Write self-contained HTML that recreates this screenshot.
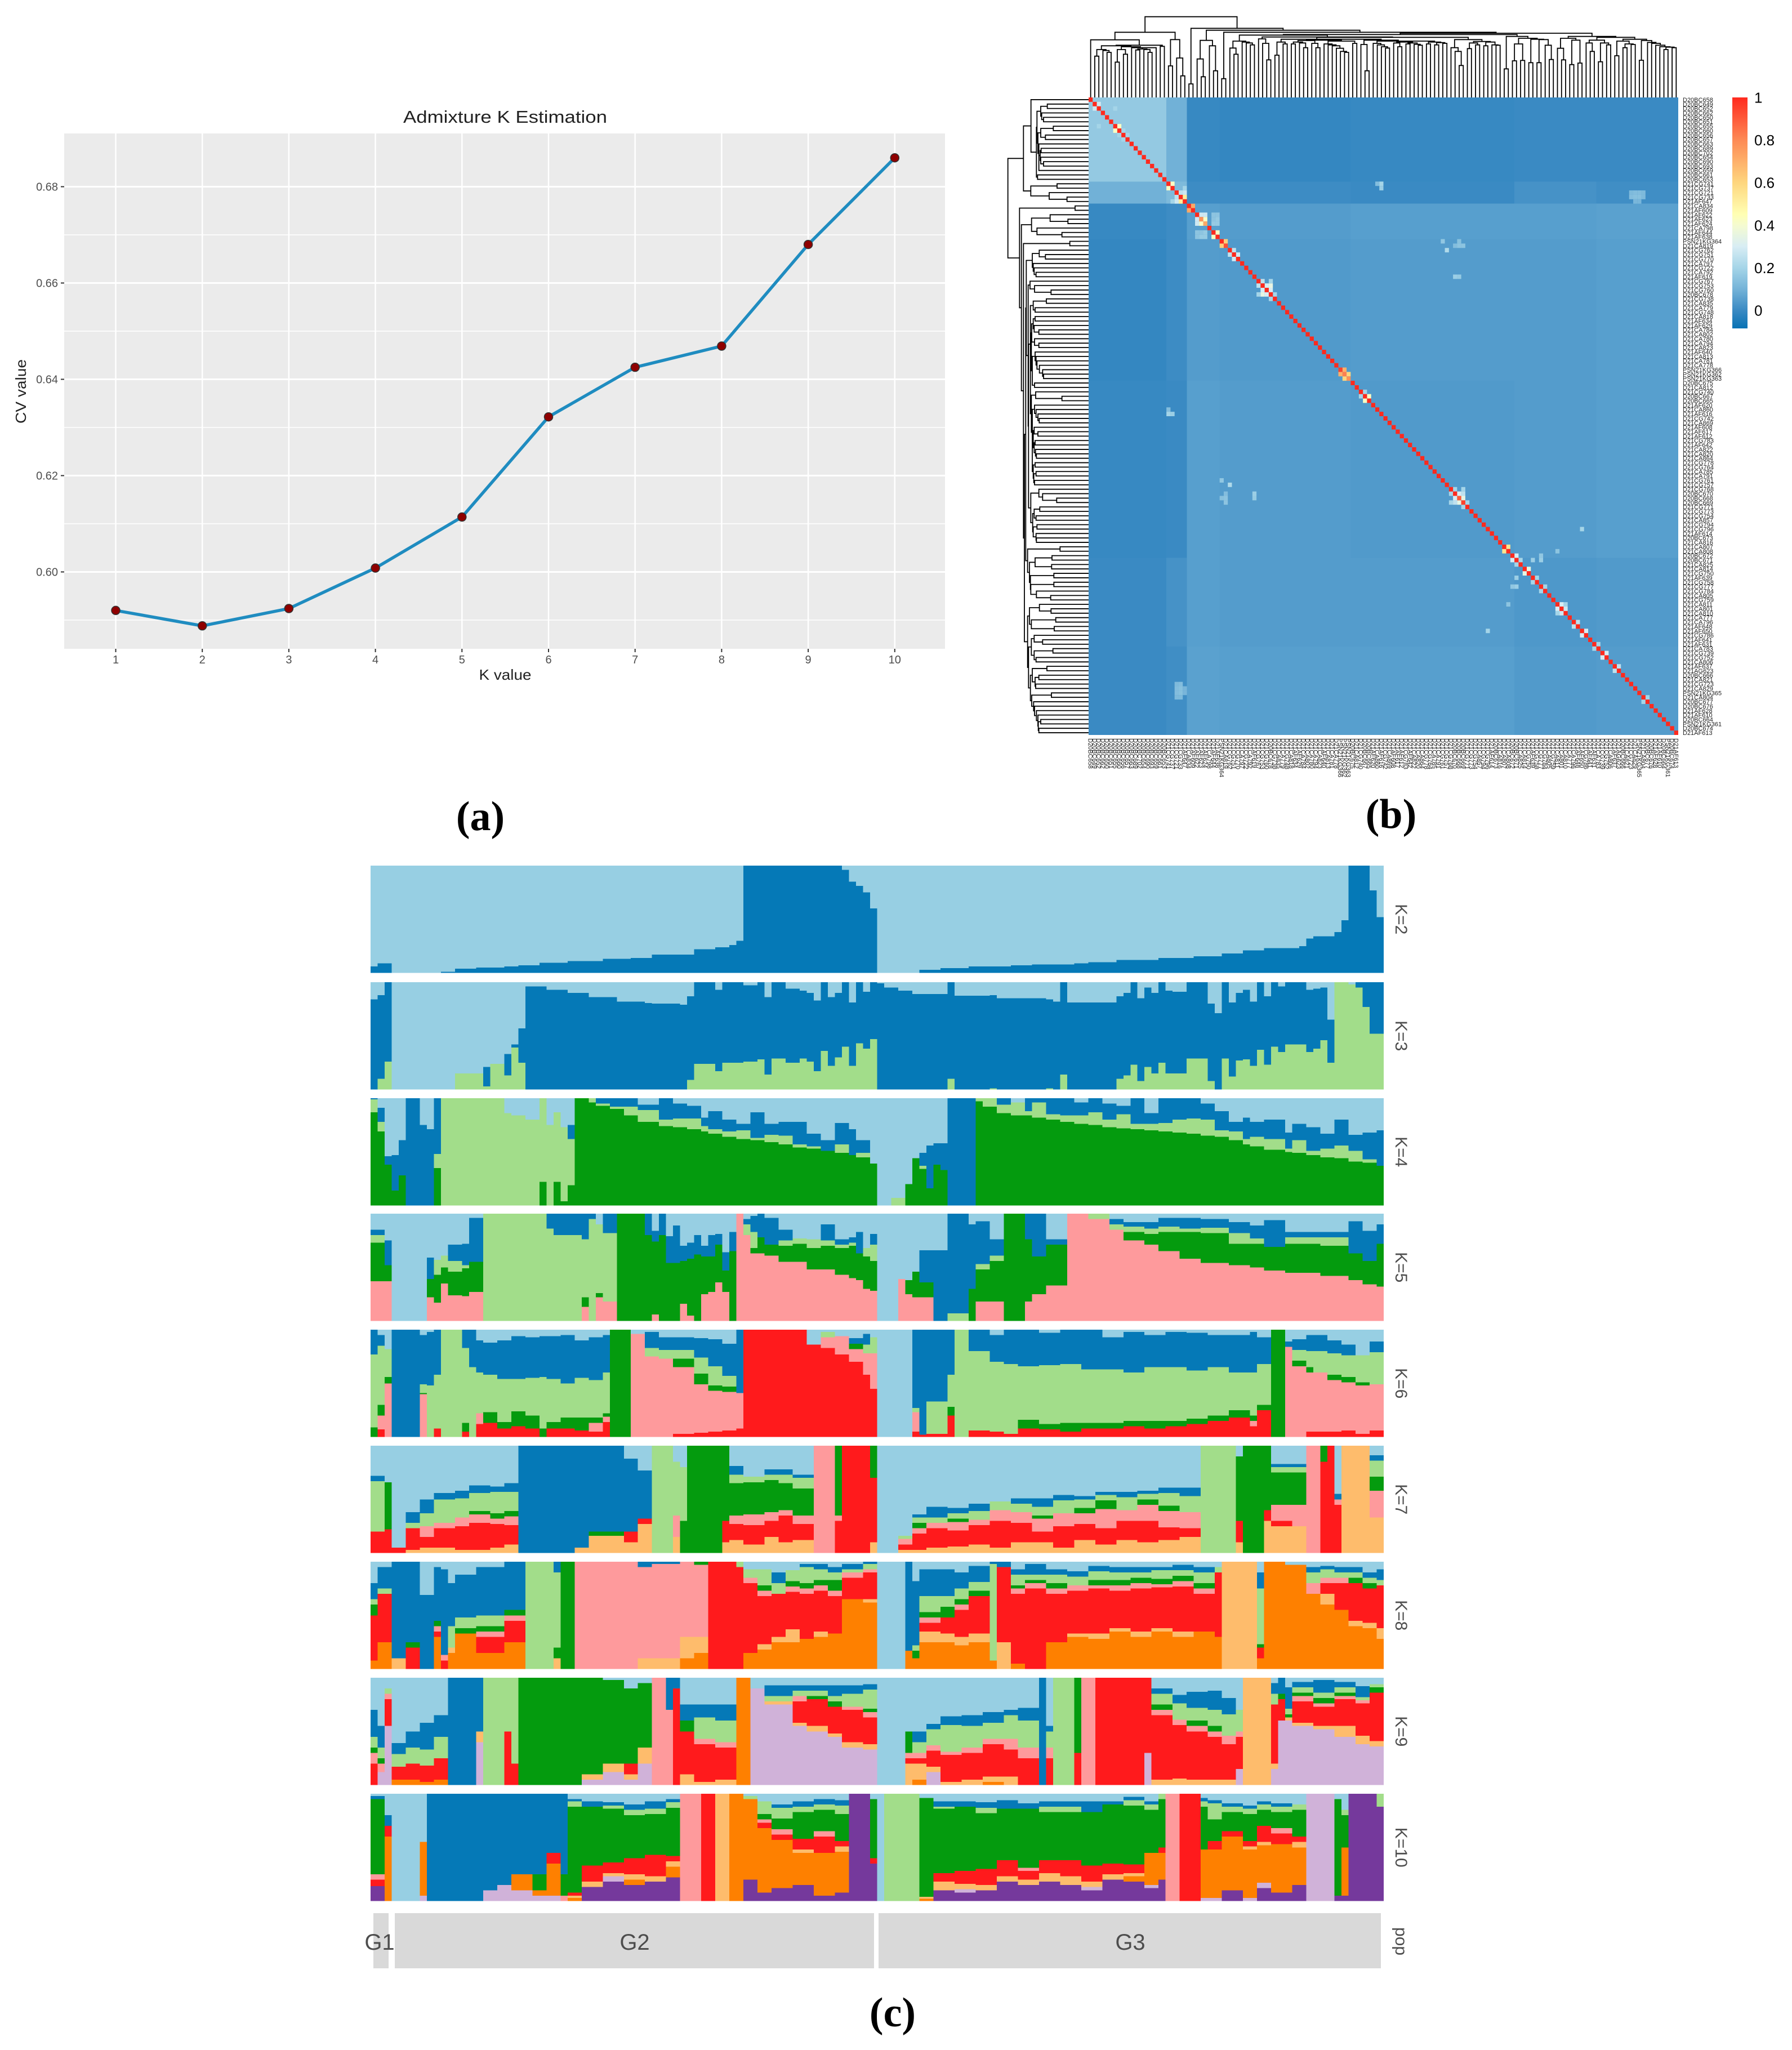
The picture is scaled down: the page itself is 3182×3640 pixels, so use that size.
<!DOCTYPE html>
<html lang="en">
<head>
<meta charset="utf-8">
<title>Admixture K estimation, kinship heatmap and structure plots</title>
<style>
html,body{margin:0;padding:0;background:#fff}
svg{display:block}
text{font-family:"Liberation Sans",sans-serif}
.sub{font-family:"Liberation Serif",serif;font-weight:700;font-size:74px;fill:#000;text-anchor:middle}
</style>
</head>
<body>
<svg id="fig" xmlns="http://www.w3.org/2000/svg" width="3182" height="3640" viewBox="0 0 3182 3640">
<rect width="3182" height="3640" fill="#fff"/>
<g id="cvChart">
<rect x="114" y="237" width="1564" height="915" fill="#ebebeb"/>
<text x="897" y="218" font-size="31" fill="#222" text-anchor="middle" textLength="362" lengthAdjust="spacingAndGlyphs">Admixture K Estimation</text>
<text x="897" y="1207" font-size="26" fill="#222" text-anchor="middle" textLength="93" lengthAdjust="spacingAndGlyphs">K value</text>
<text transform="translate(46,695) rotate(-90)" font-size="26" fill="#222" text-anchor="middle" textLength="114" lengthAdjust="spacingAndGlyphs">CV value</text>
</g>
<g id="heat"></g>
<g id="struct"></g>
<g>
<rect x="663" y="3397" width="27" height="98" fill="#d9d9d9"/>
<rect x="701" y="3397" width="851" height="98" fill="#d9d9d9"/>
<rect x="1560" y="3397" width="892" height="98" fill="#d9d9d9"/>
<text x="674" y="3462" font-size="40" fill="#4d4d4d" text-anchor="middle">G1</text>
<text x="1127" y="3462" font-size="40" fill="#4d4d4d" text-anchor="middle">G2</text>
<text x="2007" y="3462" font-size="40" fill="#4d4d4d" text-anchor="middle">G3</text>
<text transform="translate(2478,3447) rotate(90)" font-size="30" fill="#4d4d4d" text-anchor="middle">pop</text>
</g>
<text class="sub" x="853" y="1474">(a)</text>
<text class="sub" x="2470" y="1470">(b)</text>
<text class="sub" x="1585" y="3598">(c)</text>
</svg>
<script>
// ---------- panel (a) data ----------
const kValues = [1,2,3,4,5,6,7,8,9,10];
const cvValues = [0.592,0.5888,0.5924,0.6008,0.6114,0.6322,0.6425,0.6469,0.668,0.686];
const cvMajorTicks = [0.60,0.62,0.64,0.66,0.68];
const cvMinorTicks = [0.59,0.61,0.63,0.65,0.67];

// ---------- panel (b) data ----------
const sampleLabels = ["D20BC658","D20BC649","D20BC652","D20BC662","D20BC650","D20BC651","D20BC655","D20BC660","D20BC656","D20BC657","D20BC663","D20BC689","D20BC702","D20BC654","D20BC690","D20BC693","D20BC659","D20BC661","D20BC653","D21CG741","D21CG737","D21CG721","D21CG733","D21AF647",
"D21CA834","D21AF609","D21AF622","D21AF623","D21AF624","D21CA798","D21AF644","D21AF638","PSN21KG364","D21CA819",
"D21CG762","D21CG751","D21CG770","D21CA797","D21CG722","D21CA792","D21AF619","D21CG767","D21CG753","D21CG760",
"D20BC678","D21CG738","D21CA835","D21CA779","D21CG748","D21CA818","D21AF634","D21AF629","D21CA784","D21CA802",
"D21CA780","D21CA794","D21CA823","D21AF640","D21CA813","D21CA781","D21CA778","PSN21KG366","PSN21KG362","PSN21KG363",
"D20BC675","D21CA812","D21CG740","D20BC667","D20BC665","D21AF620","D21CA860","D21AF616","D21CG742","D21CA869",
"D21AF608","D21AF617","D21AF612","D21CG783","D21AF642","D21CA822","D21CA820","D21CA864","D21CG778","D21CG764",
"D21CA785","D21CA791","D21CG761","D21CG757","D21CG768","D20BC670","D20BC668","D20BC669","D21CG771","D21CG773",
"D21CG754","D21CA857","D21CG794","D21CG796","D21AF614","D20BC673","D21CA816","D21CA807","D21CA808","D20BC672",
"D20BC671","D21CA825","D21CA814","D21CG750","D21AF639","D21CG758","D21CG777","D21CG784","D21CA805","D21CG759",
"D21CA811","D21CA801","D21CA810","D21CA777","D21CA796","D21AF648","D21AF650","D21CG786","D21AF641","D21AF631",
"D21CA783","D21CG739","D21CG752","D21CA806","D21AF637","D21AG623","D20BC666","D21CA821","D21CG723","D21CA829",
"PSN21KG365","D21CA804","D20BC677","D20BC676","D21AF628","D21AF610","D20BC664","PSN21KG361","D20BC674","D21AF613"];
const blockSizes = [19,5,8,32,40,20,20];
const blockMeans = [
[.165,.095,-.005,-.01,-.005,0,0],
[.095,.12,.005,.005,0,.02,.01],
[-.005,.005,.05,.045,.05,.05,.055],
[-.01,.005,.045,.04,.045,.045,.05],
[-.005,0,.05,.045,.04,.045,.05],
[0,.02,.05,.045,.045,.035,.04],
[0,.01,.055,.05,.05,.04,.045]];
const diagonalValues = [
1,1,1,1,1,1,1,1,1,1,1,1,
1,1,1,1,1,1,1,1,1,1,1,1,
1,1,1,.78,.72,1,1,1,1,.92,1,1,
1,1,1,1,1,1,1,1,1,1,1,1,
1,1,1,1,1,1,1,1,1,1,1,1,
1,.95,.82,.78,1,1,1,1,1,1,1,1,
1,1,1,1,1,1,1,1,1,1,1,1,
1,1,1,1,1,1,.9,.95,1,1,1,1,
1,1,1,1,1,1,1,1,1,1,1,1,
1,1,1,1,1,1,1,1,1,1,1,1,
1,1,1,1,1,1,1,1,1,1,1,1,
1,1,1,1,1,1,1,1,1,1,1,1];
const relatedPairs = [[1,2,.28],[6,7,.42],[7,8,.2],[8,9,.2],[2,6,.2],[19,20,.42],[21,23,.28],[22,23,.52],[21,22,.25],[20,23,.2],[24,25,.72],[26,27,.28],[26,28,.28],[27,28,.42],[26,30,.15],[27,30,.15],[28,30,.17],[26,31,.15],[27,31,.17],[28,31,.17],[30,31,.42],[32,33,.62],[34,35,.25],[35,36,.28],[41,42,.25],[42,44,.35],[43,44,.3],[42,43,.3],[41,44,.2],[44,45,.2],[61,62,.7],[62,63,.6],[67,68,.42],[66,67,.2],[88,89,.2],[89,90,.3],[90,91,.35],[88,91,.2],[89,91,.25],[91,92,.2],[101,102,.55],[103,104,.3],[104,105,.2],[106,107,.35],[108,109,.2],[110,111,.2],[114,115,.3],[115,116,.28],[114,116,.2],[118,119,.25],[120,121,.3],[123,124,.2],[125,126,.3],[128,129,.25],[135,136,.2],[19,70,.13],[21,132,.12],[21,133,.13],[21,134,.13],[21,135,.12],[22,132,.13],[22,133,.14],[22,134,.14],[22,135,.12],[23,133,.11],[23,134,.11],[34,87,.22],[33,91,.15],[33,90,.15],[40,90,.17],[32,86,.16],[32,90,.14],[33,89,.13],[40,89,.18],[19,71,.2],[20,71,.18],[110,104,.18],[110,103,.16],[104,108,.18],[120,97,.2],[114,102,.15]];
const mergeGaps = [307,220,255,250,240,275,188,255,230,270,265,253,258,255,240,265,278,272,347,168,308,210,115,430,72,368,205,110,304,275,142,358,100,347,263,230,300,295,290,280,332,312,288,200,322,225,295,285,310,285,295,290,265,303,288,265,305,285,280,275,262,245,240,300,288,310,282,142,305,288,280,270,263,300,290,270,295,285,290,283,278,300,285,295,280,292,288,320,265,245,170,308,260,290,280,298,275,295,280,278,335,152,325,195,285,197,315,185,310,185,308,278,202,342,262,200,315,175,305,183,325,290,245,305,190,290,280,320,222,300,265,285,282,310,198,303,293,288,278,270,255,268,265];
const colorbarTicks = [0,0.2,0.4,0.6,0.8,1];
const colorStops = [[-.085,"#0872b4"],[0,"#3a8ac3"],[.1,"#74b3d8"],[.2,"#a5d5e8"],[.3,"#d8edf4"],[.4,"#f5fbd0"],[.45,"#ffffb3"],[.6,"#fed67e"],[.8,"#fd8a55"],[1,"#ff2a1e"]];

// ---------- panel (c) data: [first sample index, share of each ancestry from the bottom], top ancestry fills to 100 ----------
const ancestryColors = ["#75399c","#d0b2d9","#fe8000","#febc6c","#ff1a1c","#fe9a9c","#049b0e","#a2dd8a","#0579b7","#97cfe3"];
const k2 = [[0,6],[1,9],[3,0],[10,1],[12,4],[15,5],[19,6],[21,7],[24,9.5],[28,11],[33,13],[37,14],[40,17],[46,22],[49,24],[51,26],[52,30],[53,100],[67,96],[68,85],[69,81],[70,75],[71,60],[72,0],[78,3],[81,4.5],[85,6],[91,7],[94,8],[100,9],[102,10],[106,12],[112,14],[117,15.5],[121,18],[124,21],[127,23],[132,25],[133,32],[134,34],[137,38],[138,49],[139,100],[142,77],[143,52]];
const k3 = [[0,0,84],[1,10,78],[2,26,74],[3,0,0],[12,15,0],[16,3,18],[17,24,0],[19,13,20],[20,39,3],[21,25,32],[22,0,96],[25,0,93],[28,0,90],[31,0,86],[35,0,82],[39,0,80.5],[40,0,80],[44,0,79],[45,9,78],[46,24,76],[49,17,76],[50,25,75],[53,26,71],[55,28,72],[56,14,72],[57,29,71],[59,25,69],[61,29,63],[62,26,64],[63,17,66],[64,36,64],[65,22,64],[66,30,60],[67,40,60],[68,22,59],[69,43,57],[70,38,53],[71,47,53],[72,0,99],[73,0,95],[75,0,92],[77,0,89],[82,10,90],[83,0,87.5],[88,1,87],[89,0,85],[96,1,83],[97,0,82],[98,14,86],[99,0,81],[106,10,77],[107,13,77],[108,23,77],[109,8,77],[110,21,74],[111,15,75],[112,25,75],[113,15,77],[114,15,76],[116,29,71],[119,8,72],[120,0,71],[121,29,71],[122,12,69],[123,27,63],[124,28,65],[125,22,60],[126,37,63],[127,23,64],[128,40,60],[129,35,61],[130,42,58],[133,35,58],[134,38,56],[135,46,49],[136,25,40],[137,100,0],[139,98,0],[140,95,5],[141,77,23],[142,52,48]];
const k4 = [[0,87,12,1],[1,69,9,13],[2,38,0,8],[3,14,0,33],[4,28,0,33],[5,0,0,100],[7,0,0,75],[8,0,0,71],[9,35,13,52],[10,0,100,0],[19,0,86,0],[20,0,84,0],[22,0,80,0],[24,22,78,0],[25,0,75,0],[26,22,65,0],[27,4,69,0],[28,19,43,13],[29,100,0,0],[31,96,4,0],[32,93,2,5],[34,90,2,8],[36,84,8,8],[38,78,11,5],[41,74,6,20],[43,73,8,14],[45,71,10,12],[47,69,5,8],[48,67,4,17],[50,64,5,11],[52,62,8,6],[54,61,2,24],[56,59,7,10],[58,57,8,13],[60,54,3,21],[62,53,2,12],[64,51,0,10],[66,49,8,20],[68,47,0,24],[69,45,4,12],[71,39,0,0],[72,0,0,0],[74,0,7,0],[76,20,0,0],[77,44,0,0],[78,34,3,12],[79,16,0,40],[80,38,0,20],[81,33,0,25],[82,0,0,100],[86,97,3,0],[87,92,8,0],[89,86,8,6],[91,84,12,0],[93,84,4,12],[94,82,14,4],[96,80,5,15],[98,78,6,16],[100,76,8,12],[102,75,12,13],[104,73,7,15],[106,72,13,8],[108,71,5,24],[110,70,6,10],[112,69,8,23],[114,68,12,20],[116,67,14,19],[118,65,15,15],[120,64,6,18],[122,61,8,9],[124,57,5,20],[125,55,9,14],[127,52,10,18],[130,50,3,15],[131,49,12,15],[133,47,4,22],[135,45,8,14],[137,44,12,24],[139,41,10,15],[141,40,3,25],[143,37,0,33]];
const k5 = [[0,37,36,7,5],[2,37,15,0,23],[3,0,0,0,0],[8,22,17,0,20],[9,17,26,14,0],[10,35,15,11,0],[11,24,22,10,15],[13,23,26,3,20],[14,27,28,0,41],[16,0,0,100,0],[25,0,0,86,14],[26,0,0,80,20],[30,13,9,54,24],[31,0,0,95,5],[32,22,4,64,0],[33,18,0,64,18],[35,0,100,0,0],[39,0,80,0,20],[40,6,68,0,10],[41,0,80,0,20],[42,0,54,0,25],[43,0,54,0,35],[44,16,40,0,14],[45,5,53,0,15],[46,0,62,0,18],[47,25,35,0,10],[48,27,33,0,20],[49,36,35,0,10],[50,27,20,0,17],[51,0,65,0,18],[52,100,0,0,0],[53,80,0,10,5],[54,63,5,15,15],[55,63,15,0,22],[56,61,10,0,25],[58,55,15,5,10],[60,55,17,5,0],[62,48,20,8,0],[64,48,22,5,15],[66,43,25,3,5],[68,40,30,3,5],[69,38,25,0,20],[70,30,30,8,0],[71,28,28,15,10],[72,0,0,0,0],[75,39,0,0,0],[76,25,13,0,0],[77,22,24,0,0],[78,22,14,0,30],[80,0,0,0,66],[82,0,0,7,93],[85,0,30,0,60],[86,18,30,5,40],[88,18,38,5,15],[90,0,100,0,0],[93,18,58,0,24],[94,25,35,0,40],[96,33,38,0,5],[99,100,0,0,0],[102,95,0,5,0],[105,85,0,5,5],[107,75,8,5,4],[110,71,10,5,6],[112,65,18,5,8],[115,58,25,3,10],[118,54,28,5,8],[122,52,20,10,10],[125,50,22,5,12],[127,47,22,0,25],[130,45,27,6,5],[135,42,28,8,5],[139,38,25,0,30],[141,34,22,0,28],[143,32,40,0,18]];
const k6 = [[0,0,0,9,68,23],[1,7,13,10,55,10],[2,0,50,6,26,0],[3,0,0,0,0,100],[7,0,40,1,8,46],[8,0,0,0,48,50],[9,8,0,0,50,42],[10,0,0,0,100,0],[13,5,0,8,70,17],[14,0,0,0,65,35],[15,12,10,0,38,30],[16,13,0,10,35,30],[18,8,0,6,40,36],[20,10,0,14,30,40],[22,8,0,12,35,38],[24,0,0,8,48,38],[25,8,0,6,40,40],[27,8,0,10,32,45],[29,6,0,12,37,35],[31,5,8,5,35,40],[33,14,5,3,38,35],[34,0,0,100,0,0],[37,0,96,0,0,0],[39,0,75,0,8,15],[41,0,73,0,8,12],[43,3,62,8,8,12],[46,4,45,10,15,18],[48,5,38,5,18,25],[50,6,36,5,10,30],[52,8,33,0,0,59],[53,100,0,0,0,0],[62,86,0,0,0,0],[64,83,10,0,5,0],[66,77,17,0,0,0],[68,70,12,5,0,5],[70,58,20,0,8,10],[71,45,33,0,15,0],[72,0,0,0,0,0],[77,5,18,0,4,73],[78,2,0,0,0,98],[79,3,0,0,30,67],[82,20,0,8,30,42],[83,0,0,0,100,0],[85,6,0,0,74,20],[88,5,0,0,65,25],[90,3,0,0,65,32],[92,8,0,8,50,34],[95,7,0,5,55,30],[98,5,0,8,55,32],[101,8,0,5,50,37],[104,8,0,5,50,30],[107,10,0,5,45,38],[110,8,0,7,50,30],[113,10,0,5,50,33],[116,12,0,5,45,35],[119,15,0,5,45,30],[122,18,0,7,35,35],[125,10,5,5,40,38],[126,25,0,5,38,25],[128,0,0,100,0,0],[130,0,84,0,0,5],[131,0,66,5,10,10],[133,5,55,5,15,15],[134,5,55,0,20,15],[136,5,48,5,20,12],[138,6,45,5,20,10],[140,3,45,3,25,0],[142,6,43,0,30,10]];
const k7 = [[0,0,20,0,0,47,5],[2,0,22,0,44,0,0],[3,0,5,0,0,0,0],[5,3,20,0,0,5,10],[7,5,10,10,0,12,13],[9,5,18,5,0,22,6],[12,3,22,8,0,18,7],[14,3,25,8,3,17,7],[17,5,22,5,5,20,5],[19,8,18,8,5,18,8],[21,0,0,0,0,0,100],[29,5,0,0,0,0,95],[31,16,0,0,4,0,80],[36,10,10,0,0,0,68],[38,27,5,0,0,0,45],[40,0,0,0,0,100,0],[43,15,0,20,0,50,0],[44,0,0,0,30,50,0],[45,0,0,0,100,0,0],[50,10,20,0,70,0,0],[51,12,15,8,30,8,8],[53,8,18,10,30,5,0],[56,15,15,8,30,5,5],[58,10,25,5,25,8,5],[60,12,15,8,25,10,3],[63,0,0,100,0,0,0],[66,0,30,5,65,0,0],[67,0,100,0,0,0,0],[71,10,60,0,30,0,0],[72,0,0,0,0,0,0],[75,3,5,5,0,3,0],[77,3,15,5,5,5,3],[79,5,18,5,0,5,10],[82,6,15,8,3,5,5],[85,8,18,5,0,8,7],[88,5,25,10,0,8,0],[91,10,18,10,0,8,5],[94,10,10,12,3,8,8],[97,5,20,12,0,12,5],[100,12,15,10,5,8,3],[103,8,15,18,8,5,3],[106,12,18,10,0,12,5],[109,10,20,15,5,5,3],[112,12,12,15,5,12,5],[115,15,8,15,0,15,8],[118,0,0,0,0,100,0],[123,10,20,0,60,0,0],[124,0,0,0,100,0,0],[127,30,10,0,60,0,0],[128,25,5,15,30,5,3],[131,25,0,20,30,5,3],[133,0,0,100,0,0,0],[135,0,85,0,15,0,0],[136,0,100,0,0,0,0],[137,0,45,5,0,0,5],[138,100,0,0,0,0,0],[142,33,0,25,13,15,5]];
const k8 = [[0,8,0,42,0,10,5,15],[1,25,0,45,0,0,5,20],[3,0,10,0,0,0,0,90],[5,0,0,20,0,5,0,75],[7,0,0,0,0,0,0,69],[9,30,0,5,5,5,0,50],[10,0,0,8,5,0,0,80],[11,15,5,0,0,0,20,40],[12,33,0,0,0,5,10,40],[15,15,0,15,5,5,10,45],[19,25,0,20,5,5,0,45],[22,0,0,0,0,0,100,0],[26,0,10,0,0,10,70,10],[27,0,0,0,0,100,0,0],[29,0,0,0,100,0,0,0],[38,0,10,0,85,0,0,5],[40,0,10,0,88,0,0,2],[44,10,20,0,70,0,0,0],[46,15,15,0,67,3,0,0],[48,0,0,100,0,0,0,0],[52,0,0,95,0,0,5,0],[53,15,0,65,5,0,8,0],[55,18,5,45,5,5,15,0],[57,25,5,40,0,0,10,10],[59,25,12,35,5,5,10,0],[61,28,0,42,5,5,15,3],[63,30,5,38,5,5,10,5],[65,33,0,35,5,10,7,5],[67,65,0,20,5,0,3,5],[70,62,3,25,3,0,5,2],[72,0,0,0,0,0,0,0],[76,17,0,0,0,0,0,83],[77,10,0,0,0,7,5,60],[78,25,10,8,5,5,15,25],[81,25,8,15,0,10,10,25],[83,22,8,25,5,5,10,15],[85,25,8,35,0,5,8,15],[88,8,0,0,0,0,90,2],[89,0,25,70,0,0,0,5],[91,5,0,65,5,3,10,5],[93,0,0,75,5,3,5,10],[96,25,0,45,5,5,8,5],[99,30,3,40,5,0,8,5],[102,28,5,42,3,5,8,5],[105,35,3,35,5,5,7,5],[108,30,5,40,5,5,5,5],[111,35,3,38,3,5,8,3],[114,30,5,42,5,5,5,5],[117,35,0,35,5,5,10,5],[120,30,0,60,0,0,5,0],[121,0,100,0,0,0,0,0],[126,10,0,10,0,3,52,15],[127,100,0,0,0,0,0,0],[130,97,0,0,0,0,0,0],[133,70,0,0,10,0,10,5],[135,60,10,10,5,0,8,3],[137,55,0,25,5,0,5,5],[139,40,5,35,0,5,5,5],[141,38,5,32,0,5,5,5],[143,28,10,40,0,0,5,10]];
const k9 = [[0,0,0,0,20,10,5,10,25],[1,12,0,0,0,8,5,10,20],[2,55,0,0,25,5,0,5,0],[3,0,5,0,12,0,0,12,10],[5,0,5,0,15,0,0,15,15],[7,0,3,0,15,0,0,15,25],[9,0,5,0,20,0,0,20,20],[11,0,0,0,0,0,0,0,100],[15,40,0,10,0,0,0,0,50],[16,0,0,0,0,0,0,100,0],[19,0,0,0,50,0,0,50,0],[20,0,0,0,20,0,0,80,0],[21,0,0,0,0,0,100,0,0],[30,5,0,5,0,0,90,0,0],[33,12,0,8,0,0,78,0,0],[36,5,0,5,10,0,70,0,0],[38,20,0,15,0,0,60,0,0],[40,0,0,0,0,100,0,0,0],[42,0,0,0,0,70,0,0,30],[43,0,0,0,90,0,0,0,10],[44,0,0,10,40,0,10,0,15],[46,0,0,3,35,5,0,20,12],[49,0,0,5,30,5,0,20,15],[52,0,100,0,0,0,0,0,0],[54,90,0,0,0,0,0,0,0],[56,75,0,3,0,0,0,5,10],[60,55,0,3,20,5,0,5,5],[62,50,0,5,25,0,3,5,5],[65,45,0,3,25,0,5,5,10],[67,35,0,5,30,3,0,12,8],[70,33,0,5,25,5,3,18,5],[72,0,0,0,0,0,0,0,0],[76,0,0,20,5,5,20,0,0],[77,0,5,15,5,5,0,10,10],[79,12,0,5,15,5,0,15,5],[81,0,0,3,25,3,0,25,8],[84,0,0,5,25,5,0,20,10],[87,0,3,5,30,5,0,15,10],[90,0,0,8,25,10,0,22,5],[92,0,0,0,25,10,0,25,12],[95,0,0,0,0,0,0,0,100],[96,0,0,0,25,10,0,15,5],[97,0,0,0,0,0,0,100,0],[100,0,0,0,30,0,70,0,0],[101,0,0,0,0,100,0,0,0],[103,0,0,0,100,0,0,0,0],[110,30,0,0,70,0,0,0,0],[111,0,0,5,60,5,5,10,5],[114,0,0,6,50,5,0,15,8],[116,0,0,5,45,5,5,12,15],[119,0,0,5,40,5,5,15,18],[121,0,0,5,33,8,0,20,15],[123,15,0,0,30,5,0,20,0],[124,0,0,100,0,0,0,0,0],[128,15,0,5,55,0,0,10,10],[129,60,0,0,20,0,5,0,15],[130,60,0,3,0,0,3,5,20],[131,55,0,3,20,5,3,5,5],[134,52,0,3,18,3,5,5,12],[137,45,0,10,25,3,3,5,5],[140,38,0,8,30,3,0,3,10],[142,36,0,5,45,0,5,3,0]];
const k10 = [[0,14,0,0,0,6,5,70,0,3],[2,0,0,60,0,10,0,0,0,10],[3,0,0,0,0,0,0,0,0,0],[7,0,5,50,0,0,0,0,0,0],[8,0,0,0,0,0,0,0,0,100],[16,0,10,0,0,0,0,0,0,90],[18,0,15,0,0,0,0,0,0,85],[20,0,10,15,0,0,0,0,0,75],[23,0,5,5,0,0,0,15,0,75],[25,0,5,30,0,10,0,0,0,55],[27,0,0,0,0,0,5,20,0,75],[28,0,0,3,2,3,0,80,5,2],[30,13,0,0,5,15,0,55,0,5],[33,18,5,0,3,10,0,50,3,3],[36,15,0,5,5,15,0,40,5,5],[39,18,0,0,5,20,0,38,5,7],[42,22,0,10,5,5,0,45,5,3],[44,0,0,0,0,0,100,0,0,0],[47,0,0,0,0,100,0,0,0,0],[49,0,0,0,100,0,0,0,0,0],[51,0,0,100,0,0,0,0,0,0],[53,20,0,75,0,0,0,0,3,0],[55,8,0,60,0,5,3,5,12,0],[57,12,0,45,0,5,5,10,10,3],[60,15,0,30,3,10,0,25,5,5],[63,5,0,40,0,15,5,20,5,5],[66,8,0,38,5,5,0,25,8,5],[68,100,0,0,0,0,0,0,0,0],[71,35,0,0,0,5,0,55,0,0],[72,0,0,0,0,0,0,0,0,0],[73,0,0,0,0,0,0,0,100,0],[78,0,0,2,2,0,0,92,0,0],[80,10,0,0,8,8,0,60,2,5],[83,8,3,0,5,12,0,60,0,5],[86,10,0,0,5,15,0,52,5,5],[89,18,0,0,5,15,0,48,0,8],[92,15,0,0,5,8,3,55,0,5],[95,18,0,0,8,12,0,45,5,5],[98,15,0,0,8,15,0,45,5,5],[101,10,3,0,5,15,0,50,0,10],[104,20,0,0,5,10,0,55,0,3],[107,18,0,5,3,8,0,55,5,3],[110,12,3,30,0,0,0,40,5,3],[112,20,0,25,0,5,0,45,5,0],[113,0,0,0,0,0,100,0,0,0],[115,0,0,0,0,100,0,0,0,0],[118,0,3,45,0,0,0,40,5,3],[119,0,3,45,0,8,0,20,15,3],[121,10,0,50,0,5,0,18,5,3],[124,0,3,45,3,5,0,25,5,3],[126,12,5,35,3,15,0,15,5,3],[128,8,0,45,0,10,5,15,5,3],[131,15,0,35,5,5,0,25,5,0],[133,0,100,0,0,0,0,0,0,0],[137,5,0,0,0,0,0,90,0,0],[138,5,0,45,0,0,0,30,5,0],[139,100,0,0,0,0,0,0,0,0],[143,88,0,0,0,0,0,0,12,0]];
const structurePanels = [k2,k3,k4,k5,k6,k7,k8,k9,k10];
const panelKs = [2,3,4,5,6,7,8,9,10];

// ---------- drawing ----------
const NS = 'http://www.w3.org/2000/svg';
function make(parent, tag, attrs){
  const el = document.createElementNS(NS, tag);
  for (const key in attrs) el.setAttribute(key, attrs[key]);
  parent.appendChild(el);
  return el;
}

// panel (a)
const cvChart = document.getElementById('cvChart');
const axX = k => 205.5 + (k - 1) * 153.7;
const axY = v => 1015.5 - (v - 0.6) / 0.02 * 171;
cvMinorTicks.forEach(v => {
  const el = make(cvChart, 'line', {x1:114, x2:1678, y1:axY(v), y2:axY(v), stroke:'#fff', 'stroke-width':1.5});
  
  
});
cvMajorTicks.forEach(v => {
  const el = make(cvChart, 'line', {x1:114, x2:1678, y1:axY(v), y2:axY(v), stroke:'#fff', 'stroke-width':3});
  
  
  const tick = make(cvChart, 'line', {x1:108, x2:114, y1:axY(v), y2:axY(v), stroke:'#333', 'stroke-width':2});
  
  
  const label = make(cvChart, 'text', {x:103, y:axY(v) + 7, 'font-size':20, fill:'#4d4d4d', 'text-anchor':'end'});
  label.textContent = v.toFixed(2);
  
  
});
kValues.forEach(k => {
  const el = make(cvChart, 'line', {x1:axX(k), x2:axX(k), y1:237, y2:1152, stroke:'#fff', 'stroke-width':2.5});
  
  
  const tick = make(cvChart, 'line', {x1:axX(k), x2:axX(k), y1:1152, y2:1158, stroke:'#333', 'stroke-width':2});
  
  
  const label = make(cvChart, 'text', {x:axX(k), y:1178, 'font-size':20, fill:'#4d4d4d', 'text-anchor':'middle'});
  label.textContent = k;
  
  
});
const cvLine = make(cvChart, 'polyline', {points:kValues.map((k, i) => axX(k) + ',' + axY(cvValues[i])).join(' '), fill:'none', stroke:'#1f8cc0', 'stroke-width':5.5, 'stroke-linejoin':'round'});


kValues.forEach((k, i) => {
  const el = make(cvChart, 'circle', {cx:axX(k), cy:axY(cvValues[i]), r:7.5, fill:'#8f0000', stroke:'#333', 'stroke-width':1.5});
  
  
});

// panel (b)
const heat = document.getElementById('heat');
const HX = 1933, HY = 173, CW = 1047 / 144, CH = 1132 / 144;
function hexToRgb(h){ return [1,3,5].map(i => parseInt(h.substr(i, 2), 16)); }
function colorFor(v){
  if (v <= colorStops[0][0]) return colorStops[0][1];
  for (let i = 1; i < colorStops.length; i++) {
    if (v <= colorStops[i][0]) {
      const a = colorStops[i - 1], b = colorStops[i];
      const t = (v - a[0]) / (b[0] - a[0]);
      const ca = hexToRgb(a[1]), cb = hexToRgb(b[1]);
      return 'rgb(' + ca.map((c, j) => Math.round(c + (cb[j] - c) * t)).join(',') + ')';
    }
  }
  return colorStops[colorStops.length - 1][1];
}
let rowStart = 0;
blockSizes.forEach((rows, r) => {
  let colStart = 0;
  blockSizes.forEach((cols, c) => {
    const el = make(heat, 'rect', {x:HX + colStart * CW, y:HY + rowStart * CH, width:cols * CW, height:rows * CH, fill:colorFor(blockMeans[r][c]), 'shape-rendering':'crispEdges'});
    
    
    colStart += cols;
  });
  rowStart += rows;
});
relatedPairs.forEach(p => {
  const a = make(heat, 'rect', {x:HX + p[0] * CW, y:HY + p[1] * CH, width:CW, height:CH, fill:colorFor(p[2])});
  
  
  const b = make(heat, 'rect', {x:HX + p[1] * CW, y:HY + p[0] * CH, width:CW, height:CH, fill:colorFor(p[2])});
  
  
});
diagonalValues.forEach((v, i) => {
  const el = make(heat, 'rect', {x:HX + i * CW, y:HY + i * CH, width:CW, height:CH, fill:colorFor(v)});
  
  
});
sampleLabels.forEach((name, i) => {
  const rowLabel = make(heat, 'text', {x:2988, y:HY + (i + .5) * CH + 4, 'font-size':11, fill:'#222'});
  rowLabel.textContent = name;
  
  
  const cx = HX + (i + .5) * CW - 4;
  const colLabel = make(heat, 'text', {transform:'translate(' + cx + ',1311) rotate(90)', 'font-size':11, fill:'#222'});
  colLabel.textContent = name;
  
  
});
// dendrograms: the tree is rebuilt from the merge height between neighbouring leaves
function buildTree(lo, hi, draw){
  if (lo === hi) return {pos:lo + .5, h:0};
  let m = lo;
  for (let i = lo; i < hi; i++) if (mergeGaps[i] > mergeGaps[m]) m = i;
  const H = mergeGaps[m] / 3;
  const left = buildTree(lo, m, draw), right = buildTree(m + 1, hi, draw);
  draw(left, right, H);
  return {pos:(left.pos + right.pos) / 2, h:H};
}
let topPath = '', leftPath = '';
buildTree(0, 143, (l, r, H) => {
  const xl = HX + l.pos * CW, xr = HX + r.pos * CW;
  topPath += 'M' + xl + ' ' + (HY - l.h) + 'V' + (HY - H) + 'H' + xr + 'V' + (HY - r.h);
  const yl = HY + l.pos * CH, yr = HY + r.pos * CH;
  leftPath += 'M' + (HX - l.h) + ' ' + yl + 'H' + (HX - H) + 'V' + yr + 'H' + (HX - r.h);
});
const topDendro = make(heat, 'path', {d:topPath, fill:'none', stroke:'#000', 'stroke-width':1.8});


const leftDendro = make(heat, 'path', {d:leftPath, fill:'none', stroke:'#000', 'stroke-width':1.8});


// colorbar
const barY = v => 173 + (1 - v) * 378;
const defs = make(heat, 'defs', {});
const grad = make(defs, 'linearGradient', {id:'barGrad', x1:0, y1:1, x2:0, y2:0});
colorStops.forEach(s => {
  make(grad, 'stop', {offset:(s[0] + .085) / 1.085, 'stop-color':s[1]});
});
const bar = make(heat, 'rect', {x:3076, y:barY(1), width:27, height:barY(-.085) - barY(1), fill:'url(#barGrad)'});


colorbarTicks.forEach(v => {
  const el = make(heat, 'text', {x:3115, y:barY(v) + 9.5, 'font-size':26, fill:'#000'});
  el.textContent = String(v);
  
  
});

// panel (c)
const struct = document.getElementById('struct');
const SX = 658, SW = 1799 / 144, PH = 190.5;
const panelTops = [1537,1744,1950,2155,2361,2567,2773,2979,3185];
panelKs.forEach((K, pi) => {
  const rows = structurePanels[pi];
  const colors = ancestryColors.slice(10 - K);
  const top = panelTops[pi];
  const valY = v => top + PH - v / 100 * PH;
  rows.forEach((row, ri) => {
    const first = row[0];
    const next = ri + 1 < rows.length ? rows[ri + 1][0] : 144;
    const x = SX + first * SW, w = (next - first) * SW;
    let cum = 0;
    for (let s = 0; s < K; s++) {
      const isTop = s === K - 1;
      const share = isTop ? Math.max(0, 100 - cum) : Math.min(row[s + 1], 100 - cum);
      if (share <= 0) continue;
      const el = make(struct, 'rect', {x:x, width:w, y:valY(cum + share), height:share / 100 * PH, fill:colors[s], 'shape-rendering':'crispEdges'});
      
      
      cum += share;
    }
  });
  const label = make(struct, 'text', {transform:'translate(2478,' + (top + PH / 2) + ') rotate(90)', 'font-size':30, fill:'#4d4d4d', 'text-anchor':'middle'});
  label.textContent = 'K=' + K;
  
  
});
</script>
</body>
</html>
